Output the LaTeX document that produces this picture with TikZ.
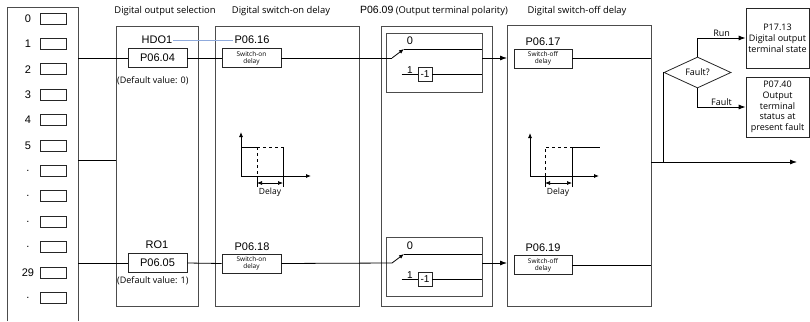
\documentclass[tikz,border=0pt]{standalone}
\usepackage{fontspec}
\setmainfont{Open Sans}
\newfontfamily\arialf{Liberation Sans}
\usepackage{tikz}
\usetikzlibrary{positioning,shapes.geometric,arrows.meta}
\definecolor{linkblue}{RGB}{143,170,220}

\begin{document}
\begin{tikzpicture}[
  x=1pt, y=-1pt,
  every node/.style={font=\fontsize{9}{10.8}\selectfont, inner sep=1pt},
  panel/.style={draw=black!70, line width=0.9pt, inner sep=0pt, outer sep=0pt},
  parbox/.style={draw=black!85, line width=0.8pt, minimum width=59pt,
                 minimum height=19pt, inner sep=0pt,
                 font=\arialf\fontsize{11}{12}\selectfont},
  dlybox/.style={draw=black!85, line width=0.8pt, minimum width=59pt,
                 minimum height=19pt, inner sep=0pt, align=center,
                 font=\fontsize{6.5}{7.2}\selectfont},
  bitbox/.style={draw=black!85, line width=0.7pt, minimum width=26pt,
                 minimum height=11pt, inner sep=0pt},
  invbox/.style={draw=black!85, line width=0.7pt, minimum size=14pt,
                 inner sep=0pt, font=\arialf\fontsize{10}{10}\selectfont},
  outbox/.style={draw=black!85, line width=0.8pt, minimum width=63pt,
                 minimum height=60pt, inner sep=0pt, align=center},
  plabel/.style={font=\arialf\fontsize{11}{12}\selectfont},
  hdr/.style={font=\fontsize{9.4}{10}\selectfont},
  sig/.style={draw=black, line width=0.8pt},
  arr/.style={sig, -{Latex[length=7pt,width=5pt]}},
  swarr/.style={sig, -{Latex[length=5pt,width=4pt]}},
  dimarr/.style={sig, line width=0.7pt,
                 {Latex[length=5pt,width=4pt]}-{Latex[length=5pt,width=4pt]}}
]
\useasboundingbox (0,0) rectangle (810,321);

%% --- Headers --------------------------------------------------
\node[hdr] (hsel) at (165,11) {Digital output selection};
\node[hdr] (hon)  at (281,11) {Digital switch-on delay};
\node[hdr, anchor=east] (hpol) at (509,11)
     {{\arialf\fontsize{10.5}{11}\selectfont P06.09} (Output terminal polarity)};
\node[hdr] (hoff) at (577,11) {Digital switch-off delay};

%% --- Terminal column ------------------------------------------
\draw[panel] (7,321) |- (78,7) -- (78,321);
\foreach \lbl [count=\i from 0] in {0,1,2,3,4,5,.,.,.,.,29,.}{
  \node[bitbox] (bit\i) at (53,{18.5+25.4*\i}) {};
  \node[font=\arialf\fontsize{11}{12}\selectfont] (num\i)
       at (28,{18.5+25.4*\i}) {\lbl};
}
\coordinate (tapA) at (78,58);
\coordinate (tapM) at (78,160);
\coordinate (tapB) at (78,263);

%% --- Panels ---------------------------------------------------
\node[panel, minimum width=82pt,  minimum height=280pt] (sel)    at (157,166) {};
\node[panel, minimum width=144pt, minimum height=280pt] (ondly)  at (287,166) {};
\node[panel, minimum width=111pt, minimum height=280pt] (pol)    at (436.5,166) {};
\node[panel, minimum width=144pt, minimum height=281pt] (offdly) at (579,165.5) {};
\node[panel, minimum width=96pt,  minimum height=59pt]  (polA)   at (434,62.5) {};
\node[panel, minimum width=96pt,  minimum height=59pt]  (polB)   at (434,266.5) {};

\draw[sig] (tapM) -- (tapM -| sel.west);

%% --- Channel HDO1 ---------------------------------------------
\node[plabel] (hdo)   at (157,40) {HDO1};
\node[parbox] (p0604) at (157.5,58) {P06.04};
\node[anchor=west] (defA) at (116,81) {(Default value: 0)};
\node[plabel] (p0616) at (252,40) {P06.16};
\node[dlybox] (onA)   at (251.5,58) {Switch-on\\delay};
\coordinate (swA)    at (392,58);
\coordinate (swAtip) at (404,49);
\node[plabel] (zeroA) at (410,41) {0};
\node[font=\arialf\fontsize{10}{10}\selectfont] (oneA) at (410,70) {1};
\node[invbox] (invA)  at (425,74) {-1};
\node[plabel] (p0617) at (543,42) {P06.17};
\node[dlybox, minimum width=58pt] (offA) at (543,58.5) {Switch-off\\delay};

\draw[linkblue, line width=0.9pt] (hdo.east) -- (p0616.west);
\draw[sig] (tapA) -- (p0604.west);
\draw[sig] (p0604.east) -- (onA.west);
\draw[sig] (onA.east) -- (swA);
\draw[swarr] (swA) -- (swAtip);
\draw[sig] (swAtip) -- (swAtip -| polA.east);
\draw[sig] ([xshift=-16pt]invA.west) -- (invA.west);
\draw[sig] (invA.east) -- (invA.east -| polA.east);
\draw[arr] (swA -| polA.east) -- (swA -| offdly.west);
\draw[sig] (offA.east) -- (offA.east -| offdly.east);

%% --- Channel RO1 ----------------------------------------------
\node[plabel] (ro)    at (157,245) {RO1};
\node[parbox] (p0605) at (157.5,263) {P06.05};
\node[anchor=west] (defB) at (116,281) {(Default value: 1)};
\node[plabel] (p0618) at (252,247) {P06.18};
\node[dlybox] (onB)   at (251.5,263.5) {Switch-on\\delay};
\coordinate (swB)    at (392,263);
\coordinate (swBtip) at (404,254);
\node[plabel] (zeroB) at (410,246) {0};
\node[font=\arialf\fontsize{10}{10}\selectfont] (oneB) at (410,275) {1};
\node[invbox] (invB)  at (425,279) {-1};
\node[plabel] (p0619) at (543,248) {P06.19};
\node[dlybox, minimum width=58pt] (offB) at (543,265) {Switch-off\\delay};

\draw[sig] (tapB) -- (p0605.west);
\draw[sig] (p0605.east) -- (onB.west);
\draw[sig] (onB.east) -- (swB);
\draw[swarr] (swB) -- (swBtip);
\draw[sig] (swBtip) -- (swBtip -| polB.east);
\draw[sig] ([xshift=-16pt]invB.west) -- (invB.west);
\draw[sig] (invB.east) -- (invB.east -| polB.east);
\draw[arr] (swB -| polB.east) -- (swB -| offdly.west);
\draw[sig] (offB.east) -- (offB.east -| offdly.east);

%% --- Switch-on timing sketch ----------------------------------
\draw[swarr] (241,176) -- (241,132);
\draw[swarr] (241,176) -- (311,176);
\draw[sig] (241,147) -- (257,147);
\draw[sig, dashed] (257,147) -- (283,147);
\draw[sig, dashed] (257,147) -- (257,176);
\draw[sig] (257,176) -- (257,187);
\draw[sig] (283,147) -- (283,187);
\draw[dimarr] (257,183) -- (283,183);
\node[font=\fontsize{8.5}{9}\selectfont] (dlyon) at (270,192) {Delay};

%% --- Switch-off timing sketch ---------------------------------
\draw[swarr] (530,176) -- (530,133);
\draw[swarr] (530,176) -- (599,176);
\draw[sig, dashed] (545,176) -- (545,147) -- (572,147);
\draw[sig] (545,176) -- (545,187);
\draw[sig] (572,187) -- (572,147) -- (600,147);
\draw[dimarr] (545,183) -- (572,183);
\node[font=\fontsize{8.5}{9}\selectfont] (dlyoff) at (558,192) {Delay};

%% --- Output and fault branch ----------------------------------
\coordinate (tap)    at (663,162);
\coordinate (outEnd) at (797,162);
\draw[arr] (tap -| offdly.east) -- (outEnd);

\node[draw=black!85, line width=0.8pt, diamond, aspect=2, inner sep=0pt,
      minimum width=67pt, minimum height=31pt] (fault) at (697.5,72.5) {Fault?};
\node[outbox] (st)  at (777.5,38)  {P17.13\\Digital output\\terminal state};
\node[outbox] (flt) at (777.5,107) {P07.40\\Output\\terminal\\status at\\present fault};

\draw[sig] (tap) |- (fault.west);
\draw[arr] (fault.north) |- node[pos=0.75, above] {Run} (st.west);
\draw[arr] (fault.south) |- node[pos=0.75, above] {Fault} (flt.west);

\end{tikzpicture}
\end{document}
